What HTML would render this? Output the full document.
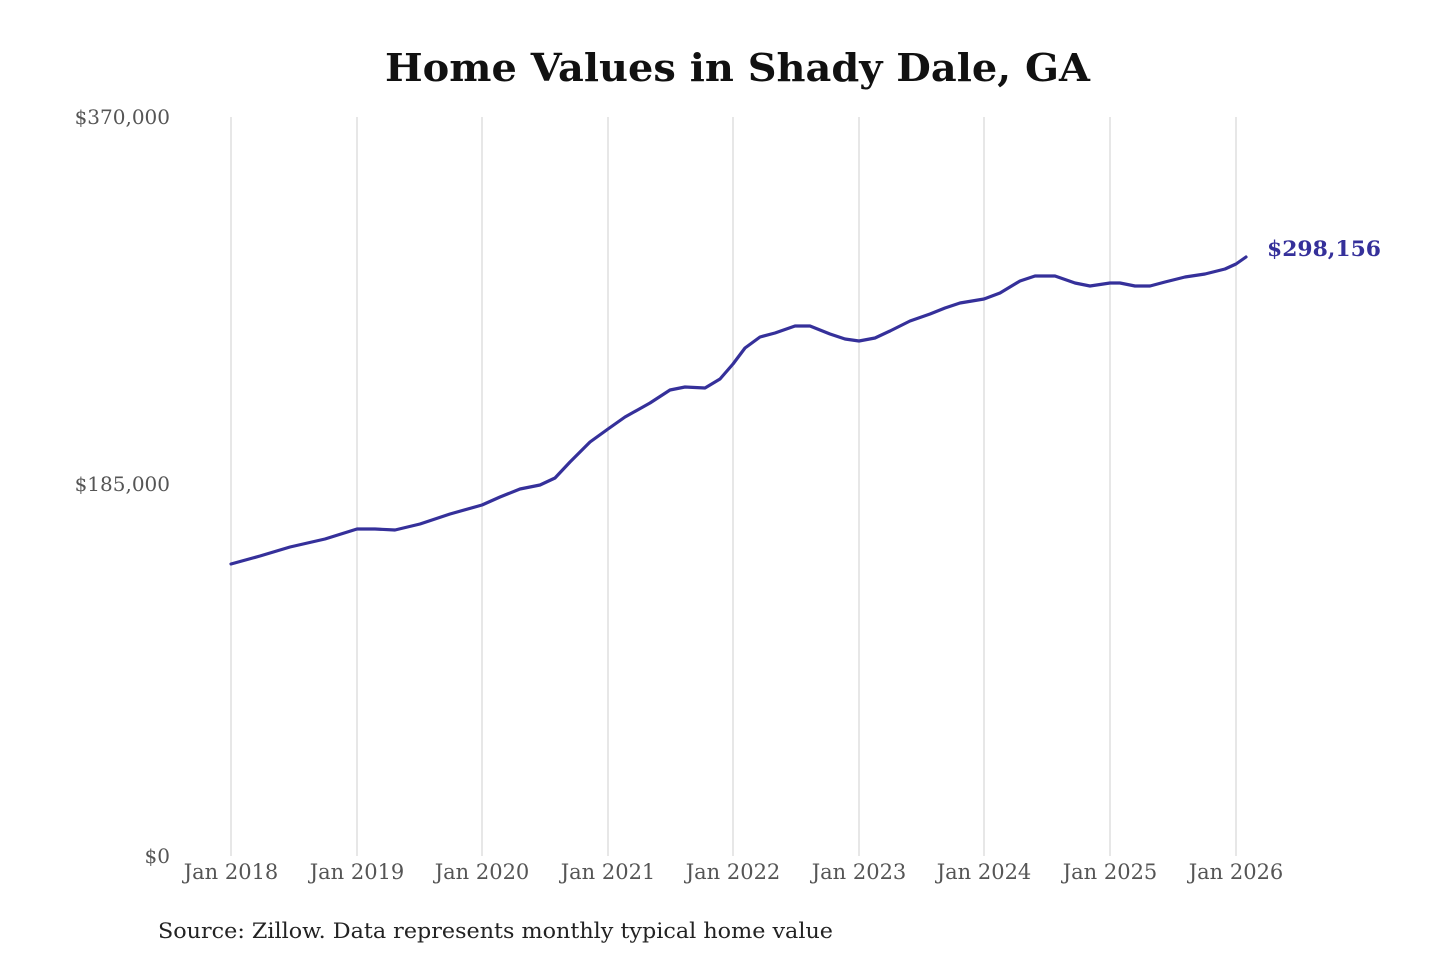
<!DOCTYPE html>
<html><head><meta charset="utf-8"><style>
body{margin:0;background:#fff;}
svg{display:block}
text{font-family:"DejaVu Serif","Liberation Serif",serif;}
</style></head><body>
<svg width="1440" height="960" viewBox="0 0 1440 960" xmlns="http://www.w3.org/2000/svg">
<rect width="1440" height="960" fill="#fff"/>
<text x="385" y="81" font-size="38" font-weight="bold" fill="#111" textLength="705" lengthAdjust="spacingAndGlyphs">Home Values in Shady Dale, GA</text>
<g stroke="#cfcfcf" stroke-width="1">
<line x1="231" y1="117" x2="231" y2="856"/><line x1="357" y1="117" x2="357" y2="856"/>
<line x1="482" y1="117" x2="482" y2="856"/><line x1="608" y1="117" x2="608" y2="856"/>
<line x1="733" y1="117" x2="733" y2="856"/><line x1="859" y1="117" x2="859" y2="856"/>
<line x1="984" y1="117" x2="984" y2="856"/><line x1="1110" y1="117" x2="1110" y2="856"/>
<line x1="1236" y1="117" x2="1236" y2="856"/>
</g>
<g font-size="20" fill="#555" text-anchor="end">
<text x="170" y="124">$370,000</text><text x="170" y="491">$185,000</text><text x="170" y="863">$0</text>
</g>
<g font-size="21" fill="#555" text-anchor="middle">
<text x="231" y="879">Jan 2018</text><text x="357" y="879">Jan 2019</text><text x="482" y="879">Jan 2020</text>
<text x="608" y="879">Jan 2021</text><text x="733" y="879">Jan 2022</text><text x="859" y="879">Jan 2023</text>
<text x="984" y="879">Jan 2024</text><text x="1110" y="879">Jan 2025</text><text x="1236" y="879">Jan 2026</text>
</g>
<polyline fill="none" stroke="#35309a" stroke-width="3.2" stroke-linejoin="round" stroke-linecap="round" points="231,564 260,556 290,547 325,539 357,529 375,529 395,530 420,524 450,514 482,505 500,497 520,489 540,485 555,478 570,462 590,442 608,429 625,417 650,403 670,390 685,387 705,388 720,379 733,364 745,348 760,337 775,333 795,326 810,326 830,334 845,339 859,341 875,338 890,331 910,321 930,314 945,308 960,303 984,299 1000,293 1020,281 1035,276 1055,276 1075,283 1090,286 1110,283 1120,283 1135,286 1150,286 1165,282 1185,277 1205,274 1225,269 1236,264 1246,257"/>
<text x="1267" y="256" font-size="21" font-weight="bold" fill="#35309a" textLength="114" lengthAdjust="spacingAndGlyphs">$298,156</text>
<text x="158" y="938" font-size="21" fill="#222" textLength="675" lengthAdjust="spacingAndGlyphs">Source: Zillow. Data represents monthly typical home value</text>
</svg>
</body></html>
